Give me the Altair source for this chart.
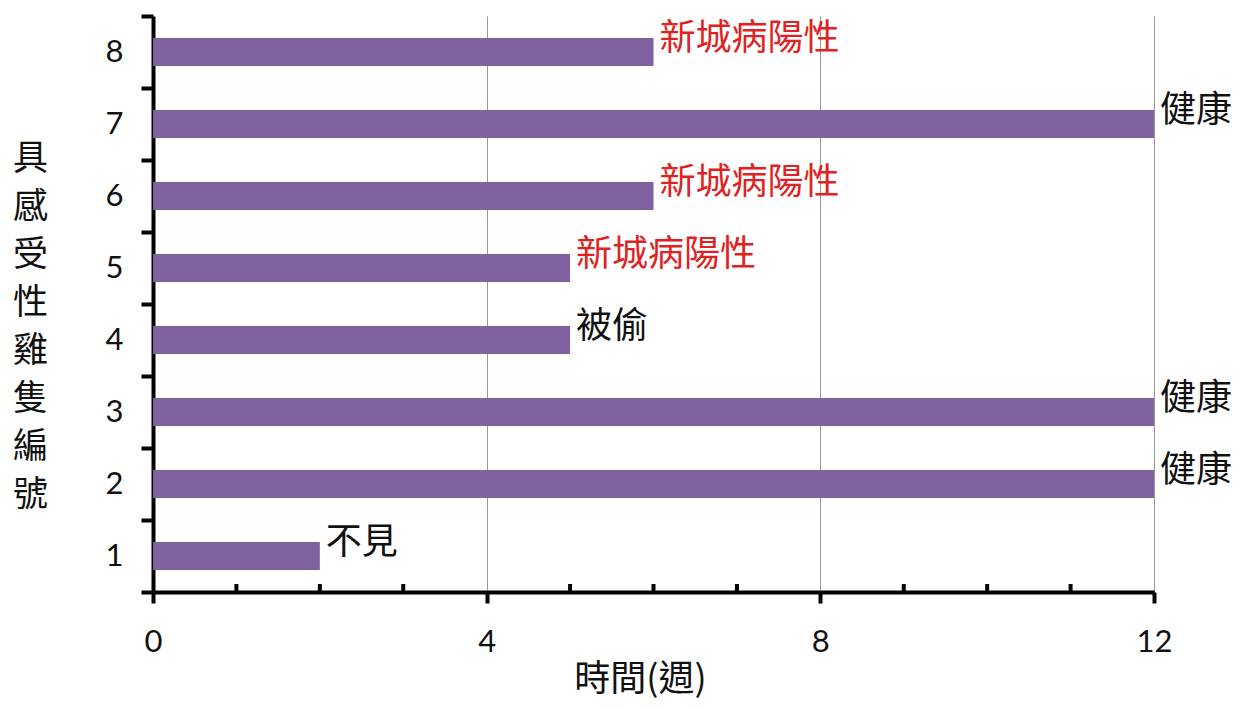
import altair as alt
import pandas as pd

chick_ids = ["1", "2", "3", "4", "5", "6", "7", "8"]
weeks = [2, 12, 12, 5, 5, 6, 12, 6]
outcomes = ["不見", "健康", "健康", "被偷", "新城病陽性", "新城病陽性", "健康", "新城病陽性"]
x_tick_values = [0, 4, 8, 12]
minor_tick_values = [1, 2, 3, 5, 6, 7, 9, 10, 11]
y_title = list("具感受性雞隻編號")
x_title = "時間(週)"

df = pd.DataFrame({"id": chick_ids, "weeks": weeks, "outcome": outcomes})
minor_df = pd.DataFrame({"m": minor_tick_values})

CJK = "Noto Sans CJK TC"
NUM = "Lato"

x_scale = alt.Scale(domain=[0, 12], nice=False, zero=True)
y_sort = list(reversed(chick_ids))
y_scale = alt.Scale(paddingInner=0, paddingOuter=0)

x_axis = alt.Axis(
    values=x_tick_values, format="d", labelFlush=False, title=x_title,
    grid=True, gridColor="#999999", gridWidth=1,
    labelFont=NUM, labelFontSize=31, labelColor="#111111", labelPadding=24,
    tickSize=11, tickWidth=4, tickColor="black", domainWidth=4, domainColor="black",
    titleFont=CJK, titleFontSize=36, titleFontWeight="normal", titleColor="#111111",
    titleX=487, titleY=87, titleBaseline="middle", titleAlign="center",
)
y_axis = alt.Axis(
    title=y_title, grid=False, tickBand="extent",
    labelFont=NUM, labelFontSize=31, labelColor="#111111", labelPadding=18,
    tickSize=12, tickWidth=4, tickColor="black", domainWidth=4, domainColor="black",
    titleFont=CJK, titleFontSize=35, titleFontWeight="normal", titleColor="#111111",
    titleAngle=0, titleLineHeight=48, titleX=-123, titleY=125,
    titleBaseline="top", titleAlign="center",
)

base = alt.Chart(df)

bars = base.mark_bar(color="#7F63A1", height={"band": 0.39}).encode(
    x=alt.X("weeks:Q", scale=x_scale, axis=x_axis),
    y=alt.Y("id:N", sort=y_sort, scale=y_scale, axis=y_axis),
)

labels = base.mark_text(
    align="left", baseline="middle", dx=6, dy=-13, font=CJK, fontSize=36
).encode(
    x=alt.X("weeks:Q", scale=x_scale),
    y=alt.Y("id:N", sort=y_sort, scale=y_scale),
    text="outcome:N",
    color=alt.condition(alt.datum.outcome == "新城病陽性", alt.value("#E02222"), alt.value("#111111")),
)

minor = alt.Chart(minor_df).mark_rule(color="black", strokeWidth=4).encode(
    x=alt.X("m:Q", scale=x_scale),
    y=alt.value(568),
    y2=alt.value(576),
)

chart = alt.layer(bars, labels, minor).properties(
    width=1001, height=576,
    autosize=alt.AutoSizeParams(type="none"),
    padding={"left": 145, "top": 8, "right": 80, "bottom": 109},
).configure_view(strokeWidth=0)

chart.save("out.html", embed_options={"renderer": "svg", "actions": False})
